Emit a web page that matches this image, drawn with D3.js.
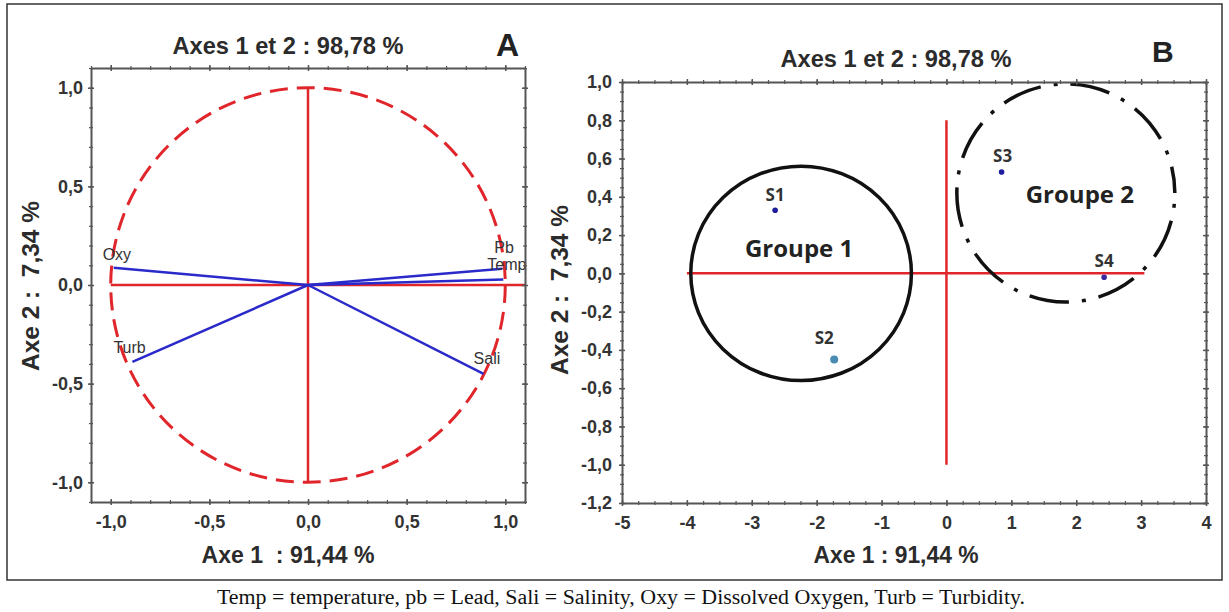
<!DOCTYPE html>
<html>
<head>
<meta charset="utf-8">
<script src="https://cdn.jsdelivr.net/npm/d3@7"></script>
<style>
  body { margin: 0; background: #fff; }
</style>
</head>
<body>
<svg id="chart" width="1229" height="612" font-family="'Liberation Sans', Arial, sans-serif"></svg>
<script>
// panel A : correlation circle of the variables
const varNames = ["Oxy", "Pb", "Temp", "Turb", "Sali"];
const varAxe1 = [-0.985, 0.985, 0.99, -0.89, 0.89];
const varAxe2 = [0.087, 0.082, 0.028, -0.39, -0.45];
const circleTicks = [-1, -0.5, 0, 0.5, 1];

// panel B : sites on the factorial plane
const siteNames = ["S1", "S2", "S3", "S4"];
const siteAxe1 = [-2.64, -1.73, 0.85, 2.43];
const siteAxe2 = [0.33, -0.45, 0.53, -0.02];
const groupNames = ["Groupe 1", "Groupe 2"];
const groupAxe1 = [-2.24, 1.84];
const groupAxe2 = [0.0, 0.42];
const groupSpread1 = [1.70, 1.68];
const groupSpread2 = [0.56, 0.57];
const siteXTicks = [-5, -4, -3, -2, -1, 0, 1, 2, 3, 4];
const siteYTicks = [-1.2, -1.0, -0.8, -0.6, -0.4, -0.2, 0.0, 0.2, 0.4, 0.6, 0.8, 1.0];

const planTitle = "Axes 1 et 2 : 98,78 %";
const axe1LabelA = "Axe 1  : 91,44 %";
const axe1LabelB = "Axe 1 : 91,44 %";
const axe2Label = "Axe 2 :  7,34 %";
const caption = "Temp = temperature, pb = Lead, Sali = Salinity, Oxy = Dissolved Oxygen, Turb = Turbidity.";

const svg = d3.select("#chart");
const RED = "#e0252b", BLUE = "#2a2acb", GRID = "#555";
const SANS = "'Liberation Sans', Arial, sans-serif";
const comma1 = d => d.toFixed(1).replace(".", ",");

svg.append("rect").attr("width", 1229).attr("height", 612).attr("fill", "#fff");
svg.append("rect")
  .attr("x", 7).attr("y", 4).attr("width", 1215).attr("height", 576)
  .attr("fill", "none").attr("stroke", "#333").attr("stroke-width", 1.5);

// box with crossing ticks on the four sides
function frame(g, x, y, xMajor, xMinor, yMajor, yMinor, fx, fy, pad) {
  const [xl, xr] = x.range(), [yb, yt] = y.range();
  const sides = [
    [d3.axisBottom(x), `translate(0,${yb})`, xMajor, xMinor, fx, "y"],
    [d3.axisTop(x), `translate(0,${yt})`, xMajor, xMinor, null, "y"],
    [d3.axisLeft(y), `translate(${xl},0)`, yMajor, yMinor, fy, "x"],
    [d3.axisRight(y), `translate(${xr},0)`, yMajor, yMinor, null, "x"]
  ];
  sides.forEach(([axis, at, major, minor, fmt, k]) => {
    const gm = g.append("g").attr("transform", at)
      .call(axis.tickValues(minor).tickFormat("").tickSize(2).tickSizeOuter(0));
    gm.select(".domain").remove();
    gm.selectAll(".tick line").attr(k + "1", function() { return -d3.select(this).attr(k + "2"); })
      .attr("stroke", GRID).attr("stroke-width", 1.2);

    const ga = g.append("g").attr("transform", at)
      .call(axis.tickValues(major).tickFormat(fmt || "").tickSize(3).tickSizeOuter(0)
        .tickPadding(k === "y" ? 10 : pad));
    ga.select(".domain").attr("stroke", GRID).attr("stroke-width", 2);
    ga.selectAll(".tick line").attr(k + "1", function() { return -d3.select(this).attr(k + "2"); })
      .attr("stroke", GRID).attr("stroke-width", 1.5);
    ga.attr("font-family", SANS);
    ga.selectAll("text")
      .attr("font-size", 18).attr("font-weight", "bold").attr("fill", "#333");
  });
}

function titles(cx, yTop, title, xLabel, xLabelW, yLabelX, yLabelY) {
  svg.append("text").attr("x", cx).attr("y", yTop)
    .attr("text-anchor", "middle").attr("font-size", 24).attr("font-weight", "bold")
    .attr("fill", "#2b2b2b")
    .attr("textLength", 231).attr("lengthAdjust", "spacingAndGlyphs")
    .text(title);
  svg.append("text").attr("x", cx).attr("y", 563)
    .attr("text-anchor", "middle").attr("font-size", 23).attr("font-weight", "bold")
    .attr("fill", "#2b2b2b")
    .attr("textLength", xLabelW).attr("lengthAdjust", "spacingAndGlyphs")
    .style("white-space", "pre")
    .text(xLabel);
  svg.append("text")
    .attr("transform", `translate(${yLabelX},${yLabelY}) rotate(-90)`)
    .attr("text-anchor", "middle").attr("font-size", 23).attr("font-weight", "bold")
    .attr("fill", "#2b2b2b")
    .attr("textLength", 170).attr("lengthAdjust", "spacingAndGlyphs")
    .style("white-space", "pre")
    .text(axe2Label);
}

// ---------- panel A ----------
const xA = d3.scaleLinear().domain([-1.1, 1.1]).range([91, 525]);
const yA = d3.scaleLinear().domain([-1.1, 1.1]).range([502, 68]);
const gA = svg.append("g");

svg.append("clipPath").attr("id", "clipA").append("rect")
  .attr("x", 91).attr("y", 68).attr("width", 434).attr("height", 434);
const plotA = gA.append("g").attr("clip-path", "url(#clipA)");

plotA.append("ellipse")
  .attr("cx", xA(0)).attr("cy", yA(0))
  .attr("rx", xA(1) - xA(0)).attr("ry", yA(0) - yA(1))
  .attr("fill", "none").attr("stroke", RED).attr("stroke-width", 3)
  .attr("stroke-dasharray", "18 9");

plotA.append("line")
  .attr("x1", xA(-1)).attr("x2", xA(1.1)).attr("y1", yA(0)).attr("y2", yA(0))
  .attr("stroke", RED).attr("stroke-width", 2.5);
plotA.append("line")
  .attr("x1", xA(0)).attr("x2", xA(0)).attr("y1", yA(1)).attr("y2", yA(-1))
  .attr("stroke", RED).attr("stroke-width", 2.5);

const vars = varNames.map((n, i) => ({ name: n, a1: varAxe1[i], a2: varAxe2[i] }));
const varLabelShift = { Oxy: [-11, -8], Pb: [-8, -16], Temp: [-16, -9], Turb: [-19, -9], Sali: [-10, -10] };

plotA.selectAll(".vec").data(vars).enter().append("line")
  .attr("x1", xA(0)).attr("y1", yA(0))
  .attr("x2", d => xA(d.a1)).attr("y2", d => yA(d.a2))
  .attr("stroke", BLUE).attr("stroke-width", 2.5);

plotA.selectAll(".vlab").data(vars).enter().append("text")
  .attr("x", d => xA(d.a1) + varLabelShift[d.name][0])
  .attr("y", d => yA(d.a2) + varLabelShift[d.name][1])
  .attr("font-size", 16).attr("fill", "#333")
  .text(d => d.name);

frame(gA, xA, yA, circleTicks, d3.range(-11, 12).map(v => v / 10), circleTicks,
  d3.range(-11, 12).map(v => v / 10), comma1, comma1, 5);

titles(288, 54, planTitle, axe1LabelA, 173, 39, 286);
svg.append("text").attr("x", 496).attr("y", 56)
  .attr("font-size", 32).attr("font-weight", "bold").attr("fill", "#222").text("A");

// ---------- panel B ----------
const xB = d3.scaleLinear().domain([-5, 4]).range([622, 1206]);
const yB = d3.scaleLinear().domain([-1.2, 1.0]).range([503, 82]);
const gB = svg.append("g");

gB.append("line")
  .attr("x1", xB(-4)).attr("x2", xB(3.05)).attr("y1", yB(0)).attr("y2", yB(0))
  .attr("stroke", RED).attr("stroke-width", 2.5);
gB.append("line")
  .attr("x1", xB(0)).attr("x2", xB(0)).attr("y1", yB(0.8)).attr("y2", yB(-1.0))
  .attr("stroke", RED).attr("stroke-width", 2.5);

const groups = groupNames.map((n, i) => ({
  name: n, cx: groupAxe1[i], cy: groupAxe2[i], sx: groupSpread1[i], sy: groupSpread2[i]
}));
gB.selectAll(".grp").data(groups).enter().append("ellipse")
  .attr("cx", d => xB(d.cx)).attr("cy", d => yB(d.cy))
  .attr("rx", d => xB(d.cx + d.sx) - xB(d.cx)).attr("ry", d => yB(d.cy) - yB(d.cy + d.sy))
  .attr("fill", "none").attr("stroke", "#111").attr("stroke-width", 3.5)
  .attr("stroke-dasharray", (d, i) => i === 1 ? "40 13 4 13" : null)
  .attr("stroke-dashoffset", 42);

const groupLabelShift = [[-2, -16], [14, 10]];
gB.selectAll(".glab").data(groups).enter().append("text")
  .attr("x", (d, i) => xB(d.cx) + groupLabelShift[i][0])
  .attr("y", (d, i) => yB(d.cy) + groupLabelShift[i][1])
  .attr("text-anchor", "middle")
  .attr("font-family", "'Open Sans', sans-serif").attr("font-weight", "bold")
  .attr("font-size", 24).attr("fill", "#222")
  .text(d => d.name);

const sites = siteNames.map((n, i) => ({ name: n, a1: siteAxe1[i], a2: siteAxe2[i] }));
const siteFill = ["#1d1d9e", "#4a8bb2", "#1d1d9e", "#3a2a9e"];
const siteR = [2.8, 4, 2.8, 2.8];
const siteLabelShift = [[0, -9], [-10, -15], [1, -10], [0, -10]];

gB.selectAll(".site").data(sites).enter().append("circle")
  .attr("cx", d => xB(d.a1)).attr("cy", d => yB(d.a2))
  .attr("r", (d, i) => siteR[i]).attr("fill", (d, i) => siteFill[i]);

gB.selectAll(".slab").data(sites).enter().append("text")
  .attr("x", (d, i) => xB(d.a1) + siteLabelShift[i][0])
  .attr("y", (d, i) => yB(d.a2) + siteLabelShift[i][1])
  .attr("text-anchor", "middle")
  .attr("font-family", "'Open Sans', sans-serif").attr("font-weight", "bold")
  .attr("font-size", 17).attr("fill", "#333")
  .text(d => d.name);

frame(gB, xB, yB, siteXTicks, d3.range(-20, 17).map(v => v / 4), siteYTicks,
  d3.range(-24, 21).map(v => v / 20), d => String(d), comma1, 7);

titles(896, 67, planTitle, axe1LabelB, 165, 568, 290);
svg.append("text").attr("x", 1152).attr("y", 62)
  .attr("font-size", 30).attr("font-weight", "bold").attr("fill", "#222").text("B");

// caption under the frame
svg.append("text").attr("x", 621).attr("y", 604)
  .attr("text-anchor", "middle")
  .attr("font-family", "'Liberation Serif', 'Times New Roman', serif")
  .attr("font-size", 20).attr("fill", "#111")
  .attr("textLength", 808).attr("lengthAdjust", "spacingAndGlyphs")
  .text(caption);
</script>
</body>
</html>
